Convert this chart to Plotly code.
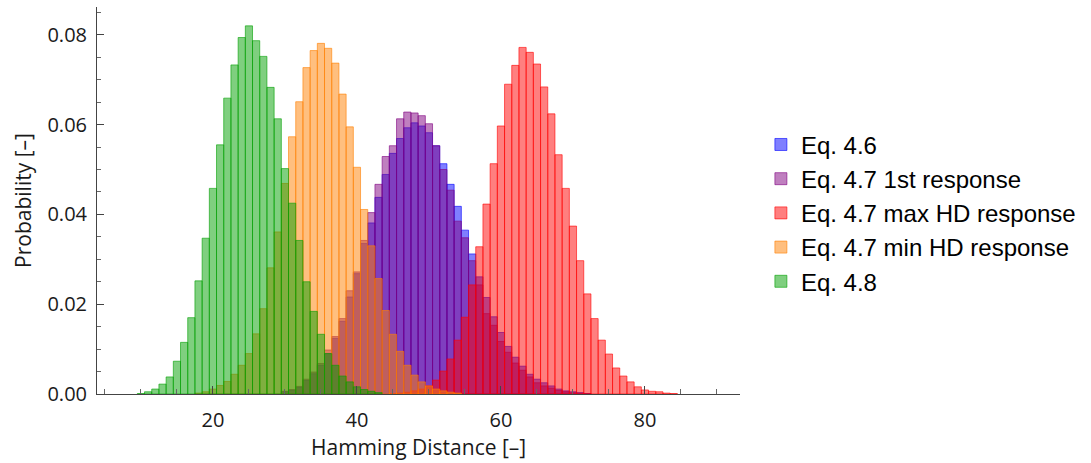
import plotly.graph_objects as go

# ---------------- data (bin centres, probabilities) ----------------
x_eq46 = list(range(30, 73))
y_eq46 = [0.0005, 0.0008, 0.0015, 0.0030, 0.0045, 0.0064, 0.0090, 0.0124, 0.0162, 0.0216,
          0.0268, 0.0335, 0.0381, 0.0438, 0.0489, 0.0536, 0.0569, 0.0593, 0.0604, 0.0597,
          0.0582, 0.0553, 0.0513, 0.0467, 0.0418, 0.0365, 0.0312, 0.0261, 0.0215, 0.0172,
          0.0137, 0.0106, 0.0082, 0.0062, 0.0044, 0.0033, 0.0025, 0.0018, 0.0011, 0.0007,
          0.0005, 0.0003, 0.0001]

x_eq47_first = list(range(30, 73))
y_eq47_first = [0.0006, 0.0010, 0.0017, 0.0033, 0.0049, 0.0068, 0.0098, 0.0128, 0.0168, 0.0230,
                0.0272, 0.0342, 0.0404, 0.0467, 0.0529, 0.0553, 0.0613, 0.0628, 0.0626, 0.0620,
                0.0602, 0.0553, 0.0500, 0.0454, 0.0385, 0.0348, 0.0297, 0.0243, 0.0179, 0.0153,
                0.0117, 0.0093, 0.0069, 0.0053, 0.0038, 0.0025, 0.0018, 0.0013, 0.0008, 0.0005,
                0.0003, 0.0002, 0.0001]

x_eq47_max = list(range(45, 85))
y_eq47_max = [0.0001, 0.0002, 0.0004, 0.0007, 0.0011, 0.0018, 0.0031, 0.0051, 0.0078, 0.0120,
              0.0171, 0.0243, 0.0328, 0.0423, 0.0513, 0.0597, 0.0690, 0.0732, 0.0772, 0.0761,
              0.0735, 0.0684, 0.0624, 0.0533, 0.0458, 0.0374, 0.0297, 0.0223, 0.0168, 0.0120,
              0.0089, 0.0058, 0.0040, 0.0027, 0.0016, 0.0009, 0.0006, 0.0005, 0.0002, 0.0001]

x_eq47_min = list(range(18, 55))
y_eq47_min = [0.0002, 0.0005, 0.0011, 0.0019, 0.0028, 0.0044, 0.0064, 0.0090, 0.0134, 0.0190,
              0.0281, 0.0361, 0.0469, 0.0573, 0.0651, 0.0727, 0.0765, 0.0781, 0.0770, 0.0737,
              0.0668, 0.0595, 0.0505, 0.0411, 0.0330, 0.0257, 0.0186, 0.0133, 0.0095, 0.0064,
              0.0042, 0.0027, 0.0018, 0.0011, 0.0007, 0.0004, 0.0002]

x_eq48 = list(range(10, 44))
y_eq48 = [0.0001, 0.0005, 0.0011, 0.0022, 0.0038, 0.0073, 0.0115, 0.0170, 0.0252, 0.0347,
          0.0458, 0.0555, 0.0659, 0.0733, 0.0794, 0.0820, 0.0787, 0.0752, 0.0683, 0.0613,
          0.0502, 0.0425, 0.0342, 0.0250, 0.0184, 0.0133, 0.0090, 0.0064, 0.0040, 0.0027,
          0.0016, 0.0010, 0.0006, 0.0003]

series = [
    ("Eq. 4.6", x_eq46, y_eq46, (0, 0, 255)),
    ("Eq. 4.7 1st response", x_eq47_first, y_eq47_first, (128, 0, 128)),
    ("Eq. 4.7 max HD response", x_eq47_max, y_eq47_max, (255, 0, 0)),
    ("Eq. 4.7 min HD response", x_eq47_min, y_eq47_min, (255, 128, 0)),
    ("Eq. 4.8", x_eq48, y_eq48, (0, 160, 0)),
]

x_tick_vals = [20, 40, 60, 80]
y_tick_vals = [0.00, 0.02, 0.04, 0.06, 0.08]

fig = go.Figure()
for name, xs, ys, (r, g, b) in series:
    fig.add_trace(go.Bar(
        x=xs, y=ys, width=1, name=name,
        marker=dict(color=f"rgba({r},{g},{b},0.5)",
                    line=dict(color=f"rgba({r},{g},{b},0.6)", width=1)),
    ))

tick_font = dict(family="Open Sans", size=20, color="#1a1a1a")
title_font = dict(family="Open Sans", size=21, color="#1a1a1a")
fig.update_layout(
    width=1091, height=463,
    barmode="overlay",
    plot_bgcolor="white", paper_bgcolor="white",
    margin=dict(l=97, r=351, t=7, b=69),
    showlegend=True,
    legend=dict(x=1.0325, xanchor="left", y=0.468, yanchor="middle",
                font=dict(family="Liberation Sans", size=24, color="black"),
                bgcolor="rgba(0,0,0,0)", tracegroupgap=0),
    xaxis=dict(range=[3.9, 93.2], tickvals=x_tick_vals, ticks="inside", ticklen=8,
               tickcolor="#444", tickwidth=1, showline=True, linecolor="#444", linewidth=1,
               showgrid=False, zeroline=False, tickfont=tick_font, ticklabelstandoff=8,
               automargin=False,
               minor=dict(dtick=5, tick0=0, ticks="inside", ticklen=5, tickcolor="#666", showgrid=False)),
    yaxis=dict(range=[0, 0.0862], tickvals=y_tick_vals, tickformat=".2f", ticks="inside", ticklen=7,
               tickcolor="#444", tickwidth=1, showline=True, linecolor="#444", linewidth=1,
               showgrid=False, zeroline=False, tickfont=tick_font, ticklabelstandoff=5,
               automargin=False,
               minor=dict(dtick=0.005, tick0=0, ticks="inside", ticklen=4, tickcolor="#666", showgrid=False),
               title=dict(text="Probability [–]", font=title_font, standoff=10)),
    annotations=[dict(text="Hamming Distance [–]", xref="paper", yref="paper",
                      x=0.5, y=-0.136, xanchor="center", yanchor="middle",
                      showarrow=False, font=title_font)],
)

fig.write_html("out.html",
               config={"displayModeBar": False},
               post_script="document.body.style.margin='0';document.body.style.padding='0';")
